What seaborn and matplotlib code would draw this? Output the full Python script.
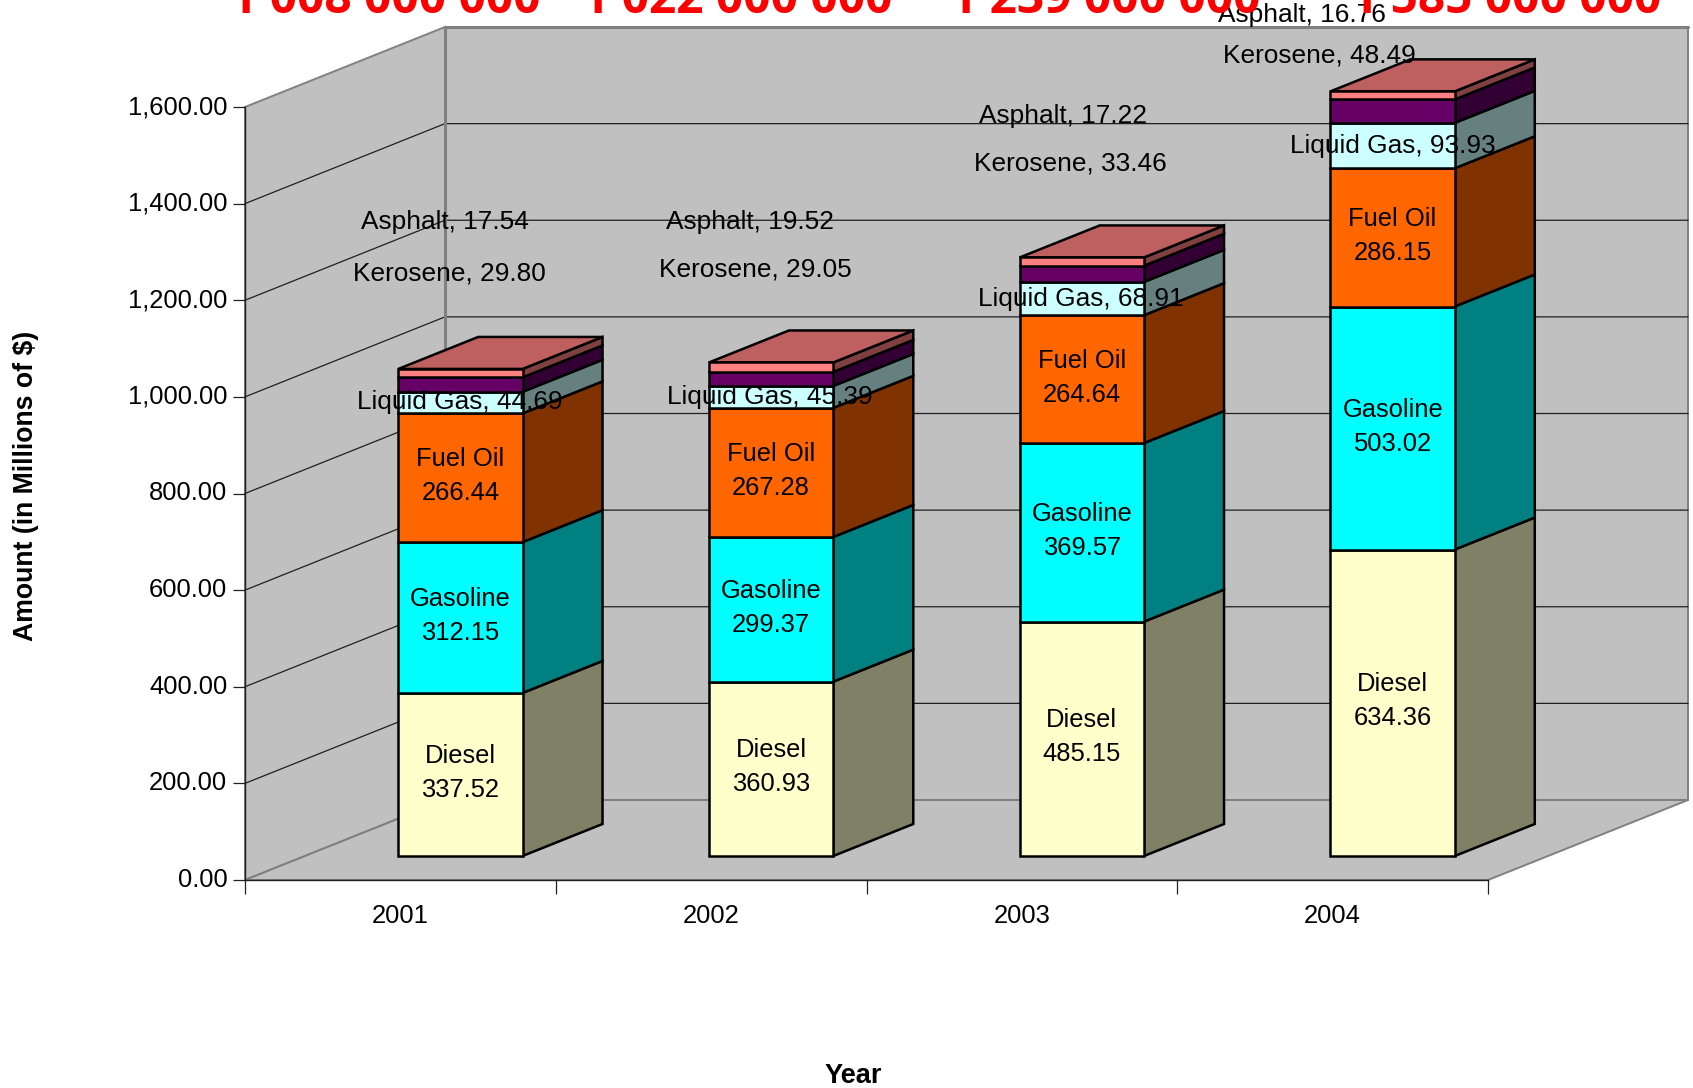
import numpy as np
import pandas as pd
import matplotlib
matplotlib.use("Agg")
import matplotlib.pyplot as plt
from matplotlib.patches import Polygon
import seaborn as sns

years = ["2001", "2002", "2003", "2004"]
fuels = ["Diesel", "Gasoline", "Fuel Oil", "Liquid Gas", "Kerosene", "Asphalt"]
diesel = [337.52, 360.93, 485.15, 634.36]
gasoline = [312.15, 299.37, 369.57, 503.02]
fuel_oil = [266.44, 267.28, 264.64, 286.15]
liquid_gas = [44.69, 45.39, 68.91, 93.93]
kerosene = [29.80, 29.05, 33.46, 48.49]
asphalt = [17.54, 19.52, 17.22, 16.76]
totals_text = ["1 008 000 000", "1 022 000 000", "1 239 000 000", "1 585 000 000"]
y_ticks = [0, 200, 400, 600, 800, 1000, 1200, 1400, 1600]

front_cols = ["#FFFFCC", "#00FFFF", "#FF6600", "#CCFFFF", "#660066", "#FF8080"]
side_cols = ["#808066", "#008080", "#803300", "#668080", "#330033", "#804040"]
top_col = "#BF6060"

W, H = 1693, 1088
sns.set_theme(style="white")
plt.rcParams["font.family"] = ["Liberation Sans", "DejaVu Sans"]

fig = plt.figure(figsize=(W / 100, H / 100), dpi=100, facecolor="white")
L, R, B, T = 245, 1488, 880, 107
ax = fig.add_axes([L / W, (H - B) / H, (R - L) / W, (B - T) / H])

# depth vector of the 3-D box, in data units
YMAX = 1600
x_per_px = 4 / (R - L)
y_per_px = YMAX / (B - T)
DX, DY = 200 * x_per_px, 80 * y_per_px
D_FRONT, D_BACK = 0.3, 0.7


def proj(x, y, d):
    return (x + d * DX, y + d * DY)


long_df = pd.DataFrame({"year": years, "Diesel": diesel, "Gasoline": gasoline,
                        "Fuel Oil": fuel_oil, "Liquid Gas": liquid_gas,
                        "Kerosene": kerosene, "Asphalt": asphalt})

cum = np.zeros(len(years))
segments = []
for i, f in enumerate(fuels):
    n0 = len(ax.patches)
    sns.barplot(data=long_df, x="year", y=f, order=years, bottom=cum, width=0.40,
                color=front_cols[i], saturation=1, edgecolor="black", linewidth=1.8,
                ax=ax, zorder=4)
    for j, p in enumerate(ax.patches[n0:]):
        p.set_x(p.get_x() + D_FRONT * DX)
        p.set_y(p.get_y() + D_FRONT * DY)
        p.set_clip_on(False)
        segments.append((i, j, p))
    cum = cum + long_df[f].to_numpy()

ax.set_xlim(-0.5, 3.5)
ax.set_ylim(0, YMAX)

# walls and floor
wall = "#C0C0C0"
edge = "#808080"
x0, x1 = -0.5, 3.5
polys = [
    [proj(x0, 0, 0), proj(x0, YMAX, 0), proj(x0, YMAX, 1), proj(x0, 0, 1)],
    [proj(x0, 0, 1), proj(x0, YMAX, 1), proj(x1, YMAX, 1), proj(x1, 0, 1)],
    [proj(x0, 0, 0), proj(x1, 0, 0), proj(x1, 0, 1), proj(x0, 0, 1)],
]
for pts in polys:
    ax.add_patch(Polygon(pts, closed=True, fc=wall, ec=edge, lw=1.4, clip_on=False, zorder=0.5))
for v in y_ticks[1:-1]:
    ax.plot(*zip(proj(x0, v, 0), proj(x0, v, 1), proj(x1, v, 1)), color="#202020", lw=0.9,
            clip_on=False, zorder=0.8)
ax.plot(*zip(proj(x0, YMAX, 1), proj(x1, YMAX, 1)), color=edge, lw=2.2, clip_on=False, zorder=0.9)
ax.plot(*zip(proj(x0, 0, 1), proj(x0, YMAX, 1)), color=edge, lw=2.2, clip_on=False, zorder=0.9)

# side and top faces of the bars
for i, j, p in segments:
    xr = p.get_x() + p.get_width()
    xl = p.get_x()
    yb = p.get_y()
    yt = yb + p.get_height()
    dd = D_BACK - D_FRONT
    ax.add_patch(Polygon([(xr, yb), (xr, yt), proj(xr, yt, dd), proj(xr, yb, dd)], closed=True,
                         fc=side_cols[i], ec="black", lw=1.8, clip_on=False, zorder=3))
    if i == len(fuels) - 1:
        ax.add_patch(Polygon([(xl, yt), (xr, yt), proj(xr, yt, dd), proj(xl, yt, dd)], closed=True,
                             fc=top_col, ec="black", lw=1.8, clip_on=False, zorder=3))

# axes furniture
for s in ["top", "right"]:
    ax.spines[s].set_visible(False)
for s in ["left", "bottom"]:
    ax.spines[s].set_color("#202020")
    ax.spines[s].set_linewidth(1.0)
    ax.spines[s].set_zorder(2)
ax.set_yticks(y_ticks)
ax.set_yticklabels([f"{v:,.2f}" for v in y_ticks])
ax.set_xticks(range(len(years)))
ax.set_xticklabels(years)
ax.set_xticks(np.arange(-0.5, 4, 1), minor=True)
ax.tick_params(axis="y", left=True, length=9, width=0.9, color="#202020", labelsize=18.4, pad=3.7, labelcolor="black")
for lab in ax.get_yticklabels():
    lab.set_verticalalignment("center")
ax.tick_params(axis="x", which="major", bottom=False, length=0, labelsize=18.4, pad=17.5, labelcolor="black")
ax.tick_params(axis="x", which="minor", bottom=True, length=10, width=0.9, color="#202020")
ax.set_xlabel("")
ax.set_ylabel("")

# labels inside the larger segments
text_kw = dict(ha="center", va="center", fontsize=18.4, color="black", zorder=6, clip_on=False)
value_sets = [diesel, gasoline, fuel_oil]
for i, j, p in segments:
    if i < 3:
        ax.text(p.get_x() + p.get_width() / 2, p.get_y() + p.get_height() / 2 + 3,
                f"{fuels[i]}\n{value_sets[i][j]:.2f}", linespacing=1.53, **text_kw)

# free-floating labels, figure pixel positions
small_pos = {
    "Asphalt": [(445, 222), (750, 222), (1063, 116), (1302, 15)],
    "Kerosene": [(449, 273), (755, 270), (1070, 164), (1319, 56)],
    "Liquid Gas": [(460, 402), (770, 397), (1081, 299), (1393, 146)],
}
small_vals = {"Asphalt": asphalt, "Kerosene": kerosene, "Liquid Gas": liquid_gas}
for name, pts in small_pos.items():
    for (px, py), v in zip(pts, small_vals[name]):
        fig.text(px / W, 1 - py / H, f"{name}, {v:.2f}", ha="center", va="center",
                 fontsize=18.9, color="black", zorder=10)

# totals clipped by the top of the figure
for px, s in zip([385, 737, 1105, 1506], totals_text):
    fig.text(px / W, 1 - 13 / H, s, ha="center", va="baseline", fontsize=34.5,
             fontweight="bold", family="Open Sans", color="#FF0000", zorder=10)

fig.text(26 / W, 1 - 486 / H, "Amount (in Millions of $)", rotation=90, ha="center", va="center",
         fontsize=19.2, fontweight="bold", color="black")
fig.text(853 / W, 1 - 1076 / H, "Year", ha="center", va="center", fontsize=19.6,
         fontweight="bold", color="black")

fig.savefig("out.png", dpi=100, facecolor="white")
